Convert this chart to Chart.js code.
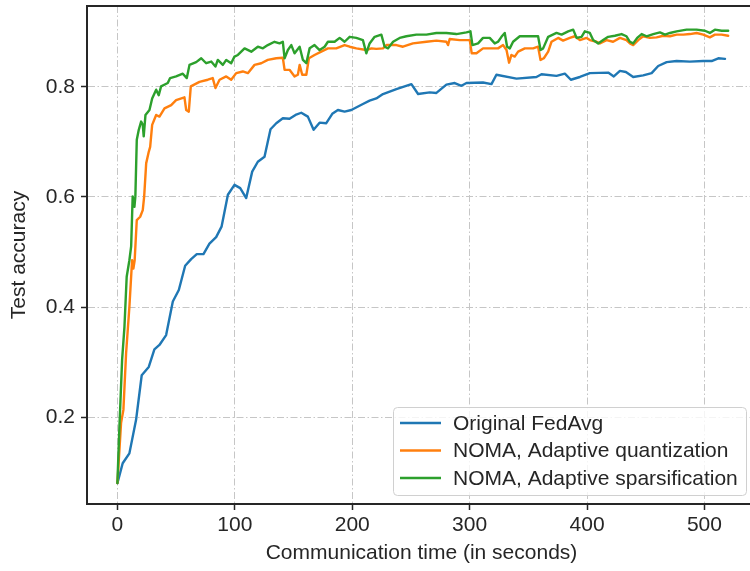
<!DOCTYPE html>
<html>
<head>
<meta charset="utf-8">
<title>Test accuracy vs communication time</title>
<script src="https://cdn.jsdelivr.net/npm/chart.js@4.4.1/dist/chart.umd.min.js"></script>
<style>
  html, body { margin: 0; padding: 0; background: #fff; overflow: hidden; }
  #wrap { width: 750px; height: 571px; overflow: hidden; }
  canvas { display: block; }
</style>
</head>
<body>
<div id="wrap"><canvas id="accChart" width="757" height="571"></canvas></div>
<script>
// Series: communication time (s) and test accuracy
const fedavgTime = [0, 4.5, 10.2, 15.9, 20.7, 26.7, 31.5, 35.8, 41.5, 47.2, 52.3, 57.7, 62.8, 67.6, 73.3, 78.4, 84.1, 88.7, 94.1, 99.7,
  104.6, 109.7, 114.8, 119.6, 125.3, 130.4, 135.3, 140.9, 146.6, 151.7, 156.6, 162.2, 167.1, 172.2, 177.9, 183, 187.8, 193.5, 199.2,
  209.1, 214.8, 220.5, 226.2, 237.6, 250.4, 256.1, 266, 271.7, 280.2, 287.3, 293, 297.3, 311.4, 318.6, 322.8, 339.9, 356.9, 361.2,
  374, 381.1, 386.2, 393.9, 402.4, 418, 422.8, 428, 433.1, 439.3, 447.8, 455, 460.6, 467.8, 476.3, 487.6, 499, 506.1, 511.8, 517.5];
const fedavgAcc = [0.08, 0.116, 0.134, 0.195, 0.276, 0.291, 0.323, 0.331, 0.349, 0.41, 0.431, 0.475, 0.487, 0.496, 0.496, 0.515, 0.527, 0.546, 0.604, 0.622,
  0.616, 0.598, 0.646, 0.664, 0.673, 0.723, 0.734, 0.743, 0.742, 0.749, 0.753, 0.746, 0.722, 0.735, 0.734, 0.751, 0.758, 0.755, 0.758,
  0.769, 0.775, 0.779, 0.787, 0.796, 0.805, 0.787, 0.79, 0.789, 0.804, 0.807, 0.802, 0.807, 0.808, 0.805, 0.822, 0.815, 0.818, 0.823,
  0.82, 0.824, 0.813, 0.818, 0.825, 0.826, 0.819, 0.829, 0.827, 0.818, 0.821, 0.825, 0.838, 0.845, 0.847, 0.846, 0.847, 0.847, 0.852, 0.851];

const quantTime = [0, 3.1, 5.1, 7.4, 10.2, 12.5, 13.6, 14.7, 16.5, 19.4, 21.6, 22.8, 24.5, 26.7, 27.9, 29.6, 33, 35.8, 40.1, 45.8,
  50, 57.1, 58.6, 60.8, 62.5, 69.9, 77, 81.2, 83.5, 87, 92.7, 96.9, 101.2, 106.8, 111.1, 116.8, 122.5, 128.1, 135.3, 140.9,
  142.4, 146.6, 150.9, 153.7, 155.2, 157.4, 160.9, 163.1, 167.9, 173.6, 179.3, 186.4, 193.5, 197.8, 203.5, 212, 216.3, 220.5, 226.2, 229.2,
  237.6, 243.2, 251.7, 263.2, 271.7, 280.2, 281.6, 283, 291.6, 300.1, 301.8, 305.8, 311.4, 319.9, 324.2, 328.5, 331.4, 333.6, 335.6, 338.4,
  341.3, 347, 354.1, 358.3, 360.4, 363.2, 366.9, 369.7, 375.4, 379.6, 385.3, 389.6, 393.9, 399.6, 402.4, 408.1, 410.9, 416.6, 422.2, 428,
  433.6, 436.5, 439.3, 443.6, 447.8, 453.5, 459.2, 464.8, 470.6, 476.3, 482, 487.6, 493.3, 499, 504.6, 508.9, 514.6, 520.2];
const quantAcc = [0.08, 0.189, 0.213, 0.316, 0.4, 0.485, 0.47, 0.485, 0.558, 0.564, 0.576, 0.601, 0.661, 0.682, 0.691, 0.731, 0.749, 0.746, 0.761, 0.767,
  0.776, 0.781, 0.758, 0.755, 0.801, 0.809, 0.813, 0.816, 0.798, 0.813, 0.819, 0.813, 0.825, 0.828, 0.825, 0.84, 0.843, 0.849, 0.852, 0.853,
  0.831, 0.831, 0.819, 0.822, 0.84, 0.822, 0.822, 0.852, 0.858, 0.864, 0.87, 0.87, 0.876, 0.873, 0.87, 0.867, 0.87, 0.869, 0.87, 0.876,
  0.876, 0.873, 0.879, 0.882, 0.884, 0.882, 0.876, 0.887, 0.885, 0.885, 0.861, 0.861, 0.87, 0.87, 0.87, 0.876, 0.867, 0.844, 0.858, 0.855,
  0.864, 0.87, 0.87, 0.873, 0.849, 0.852, 0.864, 0.882, 0.889, 0.884, 0.889, 0.892, 0.885, 0.889, 0.885, 0.882, 0.879, 0.885, 0.882, 0.889,
  0.885, 0.879, 0.876, 0.885, 0.892, 0.889, 0.89, 0.893, 0.892, 0.895, 0.895, 0.896, 0.898, 0.895, 0.89, 0.895, 0.895, 0.893];

const sparseTime = [0, 1.7, 4, 6, 7.9, 10.2, 11.7, 13, 14.5, 15.3, 16.5, 18.2, 20.2, 21.6, 22.4, 23.9, 27.3, 29.6, 33, 35.2,
  37.2, 42.9, 44.9, 50, 55.7, 59.1, 61.4, 67.1, 71.4, 75.6, 79.9, 83.5, 85.5, 89.8, 92.7, 96.9, 99.7, 102.6, 108.3, 114,
  119.6, 123.9, 128.1, 133.8, 138.1, 140.9, 142.4, 145.2, 148.1, 150.9, 155.2, 158, 160.9, 163.7, 167.9, 172.2, 176.5, 179.3, 185, 189.3,
  193.5, 197.8, 203.5, 209.1, 212, 214.8, 219.1, 224.8, 227.6, 230.5, 234.8, 240.4, 246.1, 254.6, 263.2, 271.7, 280.2, 288.7, 297.3, 300.7,
  302.4, 307.2, 311.4, 317.1, 321.4, 324.2, 327.1, 329.9, 331.9, 334.2, 337, 342.7, 351.2, 358.3, 360.4, 362.6, 366.9, 374, 378.3, 383.9,
  388.2, 391.1, 395.3, 398.1, 402.4, 405.2, 409.5, 413.7, 418, 423.7, 429.4, 433.6, 436.5, 439.3, 442.7, 446.5, 450.7, 456.4, 462.1, 466.4,
  470.6, 476.3, 484.8, 493.3, 500.4, 504.6, 508.9, 514.6, 520.2];
const sparseAcc = [0.08, 0.182, 0.304, 0.364, 0.455, 0.485, 0.51, 0.601, 0.582, 0.601, 0.704, 0.722, 0.737, 0.731, 0.71, 0.749, 0.758, 0.779, 0.795, 0.785,
  0.801, 0.807, 0.816, 0.819, 0.824, 0.816, 0.84, 0.845, 0.852, 0.843, 0.846, 0.837, 0.849, 0.84, 0.849, 0.843, 0.855, 0.858, 0.87, 0.864,
  0.873, 0.87, 0.876, 0.882, 0.879, 0.882, 0.852, 0.867, 0.876, 0.861, 0.873, 0.849, 0.843, 0.87, 0.876, 0.867, 0.873, 0.882, 0.882, 0.889,
  0.882, 0.891, 0.889, 0.885, 0.861, 0.879, 0.891, 0.895, 0.873, 0.87, 0.882, 0.889, 0.892, 0.895, 0.895, 0.898, 0.898, 0.896, 0.899, 0.901,
  0.876, 0.879, 0.889, 0.889, 0.879, 0.882, 0.891, 0.898, 0.873, 0.87, 0.882, 0.892, 0.892, 0.892, 0.867, 0.87, 0.891, 0.898, 0.895, 0.901,
  0.904, 0.889, 0.891, 0.901, 0.898, 0.885, 0.879, 0.885, 0.891, 0.893, 0.896, 0.892, 0.882, 0.879, 0.889, 0.896, 0.892, 0.896, 0.899, 0.895,
  0.898, 0.901, 0.904, 0.904, 0.902, 0.898, 0.904, 0.902, 0.902];

const seriesLabels = ['Original FedAvg', 'NOMA, Adaptive quantization', 'NOMA, Adaptive sparsification'];
const seriesColors = ['#1f77b4', '#ff7f0e', '#2ca02c'];
const xTicks = [0, 100, 200, 300, 400, 500];
const yTicks = [0.2, 0.4, 0.6, 0.8];

const FONT = '"Liberation Sans", Arial, Helvetica, sans-serif';
const INK = '#262626';

function toPoints(xs, ys) {
  return xs.map((x, i) => ({ x: x, y: ys[i] }));
}

// Top spine (the right edge of the frame falls just outside the page)
const topSpine = {
  id: 'topSpine',
  afterDraw(chart) {
    const { ctx, chartArea } = chart;
    ctx.save();
    ctx.strokeStyle = INK;
    ctx.lineWidth = 2;
    ctx.beginPath();
    ctx.moveTo(chartArea.left - 1, chartArea.top);
    ctx.lineTo(chartArea.right + 1, chartArea.top);
    ctx.stroke();
    ctx.restore();
  }
};

// Legend box drawn inside the plot, lower right
const insideLegend = {
  id: 'insideLegend',
  afterDraw(chart) {
    const ctx = chart.ctx;
    const box = { x: 393.5, y: 407.5, w: 353, h: 88, r: 4 };
    ctx.save();
    ctx.beginPath();
    ctx.roundRect(box.x, box.y, box.w, box.h, box.r);
    ctx.fillStyle = 'rgba(255,255,255,0.8)';
    ctx.fill();
    ctx.strokeStyle = '#d0d0d0';
    ctx.lineWidth = 1;
    ctx.stroke();

    ctx.font = '21px ' + FONT;
    ctx.textBaseline = 'middle';
    ctx.fillStyle = INK;
    chart.data.datasets.forEach((ds, i) => {
      const rowY = 423 + i * 27.5;
      ctx.strokeStyle = ds.borderColor;
      ctx.lineWidth = 2.5;
      ctx.beginPath();
      ctx.moveTo(400, rowY);
      ctx.lineTo(441, rowY);
      ctx.stroke();
      ctx.fillText(ds.label, 453, rowY + 1);
    });
    ctx.restore();
  }
};

const gridStyle = {
  color: '#c6c6c6',
  lineWidth: 1,
  tickColor: INK,
  tickLength: 6,
  tickWidth: 1.5,
  tickBorderDash: []
};

const datasets = [
  { xs: fedavgTime, ys: fedavgAcc, order: 3 },
  { xs: quantTime, ys: quantAcc, order: 2 },
  { xs: sparseTime, ys: sparseAcc, order: 1 }
].map((s, i) => ({
  label: seriesLabels[i],
  data: toPoints(s.xs, s.ys),
  borderColor: seriesColors[i],
  backgroundColor: seriesColors[i],
  borderWidth: 2.4,
  pointRadius: 0,
  tension: 0,
  borderJoinStyle: 'round',
  borderCapStyle: 'round',
  order: s.order
}));

new Chart(document.getElementById('accChart'), {
  type: 'line',
  data: { datasets: datasets },
  options: {
    responsive: false,
    animation: false,
    devicePixelRatio: 1,
    layout: { padding: { top: 6, right: 1, left: 0, bottom: 0 } },
    plugins: {
      legend: { display: false },
      tooltip: { enabled: false }
    },
    scales: {
      x: {
        type: 'linear',
        min: -25.9,
        max: 543.9,
        afterBuildTicks: (scale) => { scale.ticks = xTicks.map(v => ({ value: v })); },
        afterFit: (scale) => { scale.height = 67; scale.paddingLeft = 0; scale.paddingRight = 0; },
        grid: gridStyle,
        border: { display: true, color: INK, width: 2, dash: [7, 2.5, 1.5, 2.5] },
        ticks: { color: INK, font: { family: FONT, size: 21 }, padding: 3, maxRotation: 0 },
        title: {
          display: true,
          text: 'Communication time (in seconds)',
          color: INK,
          font: { family: FONT, size: 21 },
          padding: { top: 0, bottom: 5 }
        }
      },
      y: {
        type: 'linear',
        min: 0.042,
        max: 0.947,
        afterBuildTicks: (scale) => { scale.ticks = yTicks.map(v => ({ value: v })); },
        afterFit: (scale) => { scale.width = 87; scale.paddingTop = 0; scale.paddingBottom = 0; },
        grid: gridStyle,
        border: { display: true, color: INK, width: 2, dash: [7, 2.5, 1.5, 2.5] },
        ticks: {
          color: INK,
          font: { family: FONT, size: 21 },
          padding: 6,
          callback: (v) => v.toFixed(1)
        },
        title: {
          display: true,
          text: 'Test accuracy',
          color: INK,
          font: { family: FONT, size: 21 },
          padding: { top: 7, bottom: 0 }
        }
      }
    }
  },
  plugins: [topSpine, insideLegend]
});
</script>
</body>
</html>
